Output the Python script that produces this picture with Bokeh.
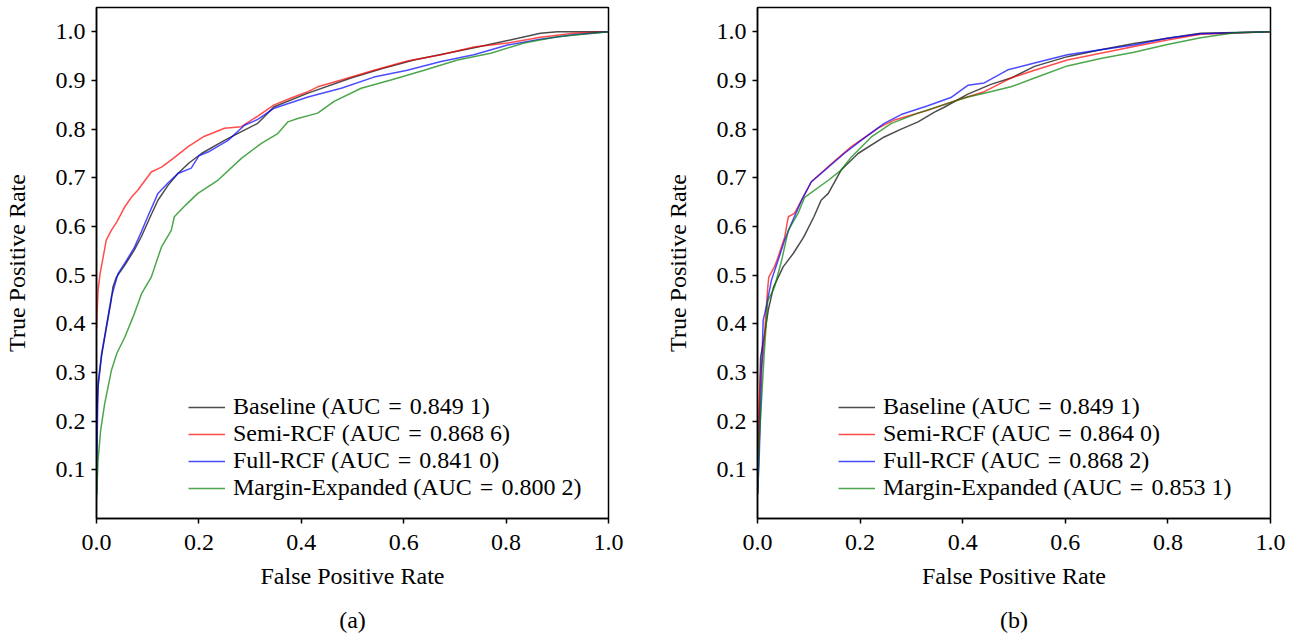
from bokeh.plotting import figure
from bokeh.layouts import row
from bokeh.models import Range1d, FixedTicker, PrintfTickFormatter, Legend, LegendItem, LinearAxis
from bokeh.embed import file_html
from bokeh.resources import INLINE

# ---------------- data ----------------
x_ticks = [0.0, 0.2, 0.4, 0.6, 0.8, 1.0]
y_ticks = [0.1, 0.2, 0.3, 0.4, 0.5, 0.6, 0.7, 0.8, 0.9, 1.0]

# panel (a)
a_baseline_fpr = [0.0, 0.0, 0.003, 0.01, 0.019, 0.029, 0.032, 0.039, 0.055, 0.074, 0.088, 0.105, 0.12, 0.14, 0.159, 0.18, 0.205, 0.25, 0.283, 0.315, 0.347, 0.413, 0.497, 0.56, 0.62, 0.68, 0.74, 0.803, 0.867, 0.9, 1.0]
a_baseline_tpr = [0.05, 0.2, 0.27, 0.335, 0.39, 0.45, 0.475, 0.496, 0.52, 0.552, 0.58, 0.62, 0.654, 0.685, 0.709, 0.73, 0.75, 0.777, 0.795, 0.812, 0.846, 0.874, 0.905, 0.925, 0.942, 0.955, 0.968, 0.982, 0.997, 1.0, 1.0]

a_semi_fpr = [0.0, 0.003, 0.007, 0.013, 0.019, 0.029, 0.04, 0.055, 0.068, 0.081, 0.095, 0.107, 0.127, 0.15, 0.179, 0.21, 0.25, 0.283, 0.315, 0.347, 0.38, 0.413, 0.432, 0.478, 0.542, 0.607, 0.673, 0.737, 0.803, 0.867, 0.932, 1.0]
a_semi_tpr = [0.39, 0.469, 0.503, 0.537, 0.572, 0.592, 0.61, 0.64, 0.66, 0.675, 0.695, 0.712, 0.722, 0.74, 0.764, 0.785, 0.802, 0.805, 0.827, 0.85, 0.864, 0.877, 0.887, 0.901, 0.921, 0.94, 0.953, 0.969, 0.977, 0.989, 0.997, 1.0]

a_full_fpr = [0.0, 0.002, 0.003, 0.01, 0.019, 0.029, 0.042, 0.055, 0.074, 0.088, 0.1, 0.12, 0.14, 0.159, 0.185, 0.2, 0.218, 0.257, 0.289, 0.315, 0.347, 0.413, 0.478, 0.542, 0.607, 0.673, 0.737, 0.803, 0.867, 0.932, 1.0]
a_full_tpr = [0.05, 0.21, 0.277, 0.339, 0.393, 0.455, 0.503, 0.524, 0.557, 0.59, 0.62, 0.668, 0.69, 0.709, 0.72, 0.745, 0.753, 0.777, 0.808, 0.82, 0.843, 0.866, 0.884, 0.907, 0.921, 0.939, 0.953, 0.973, 0.985, 0.994, 1.0]

a_margin_fpr = [0.0, 0.003, 0.008, 0.016, 0.029, 0.04, 0.055, 0.074, 0.088, 0.107, 0.12, 0.127, 0.146, 0.152, 0.175, 0.198, 0.237, 0.283, 0.322, 0.354, 0.374, 0.393, 0.432, 0.464, 0.517, 0.575, 0.64, 0.705, 0.77, 0.835, 0.9, 1.0]
a_margin_tpr = [0.04, 0.119, 0.18, 0.236, 0.304, 0.34, 0.372, 0.421, 0.462, 0.496, 0.537, 0.558, 0.592, 0.62, 0.645, 0.668, 0.695, 0.74, 0.771, 0.791, 0.815, 0.822, 0.833, 0.857, 0.884, 0.901, 0.921, 0.942, 0.956, 0.977, 0.99, 1.0]

# panel (b)
b_baseline_fpr = [0.0, 0.003, 0.006, 0.012, 0.021, 0.031, 0.05, 0.07, 0.09, 0.11, 0.124, 0.138, 0.163, 0.196, 0.247, 0.28, 0.313, 0.345, 0.364, 0.41, 0.455, 0.494, 0.54, 0.604, 0.669, 0.734, 0.799, 0.864, 1.0]
b_baseline_tpr = [0.05, 0.2, 0.331, 0.366, 0.428, 0.475, 0.517, 0.545, 0.578, 0.62, 0.654, 0.668, 0.716, 0.75, 0.784, 0.8, 0.815, 0.835, 0.845, 0.872, 0.892, 0.905, 0.929, 0.949, 0.963, 0.976, 0.987, 0.997, 1.0]

b_semi_fpr = [0.0, 0.004, 0.006, 0.011, 0.02, 0.022, 0.033, 0.04, 0.053, 0.06, 0.072, 0.086, 0.105, 0.144, 0.183, 0.235, 0.267, 0.332, 0.39, 0.442, 0.494, 0.54, 0.604, 0.669, 0.734, 0.799, 0.864, 1.0]
b_semi_tpr = [0.05, 0.25, 0.297, 0.338, 0.475, 0.496, 0.517, 0.537, 0.578, 0.62, 0.627, 0.654, 0.692, 0.729, 0.764, 0.802, 0.819, 0.839, 0.86, 0.877, 0.905, 0.921, 0.942, 0.956, 0.97, 0.983, 0.995, 1.0]

b_full_fpr = [0.0, 0.003, 0.008, 0.011, 0.017, 0.027, 0.04, 0.053, 0.066, 0.086, 0.105, 0.124, 0.169, 0.202, 0.247, 0.28, 0.332, 0.377, 0.41, 0.442, 0.488, 0.54, 0.604, 0.669, 0.734, 0.799, 0.864, 1.0]
b_full_tpr = [0.05, 0.112, 0.3, 0.407, 0.434, 0.489, 0.53, 0.572, 0.606, 0.654, 0.692, 0.709, 0.75, 0.777, 0.812, 0.83, 0.848, 0.865, 0.89, 0.895, 0.922, 0.936, 0.953, 0.963, 0.973, 0.987, 0.996, 1.0]

b_margin_fpr = [0.0, 0.003, 0.006, 0.013, 0.02, 0.033, 0.047, 0.06, 0.079, 0.092, 0.138, 0.163, 0.183, 0.222, 0.261, 0.313, 0.377, 0.41, 0.442, 0.494, 0.54, 0.604, 0.669, 0.734, 0.799, 0.864, 0.93, 1.0]
b_margin_tpr = [0.05, 0.15, 0.208, 0.338, 0.447, 0.475, 0.53, 0.592, 0.627, 0.66, 0.695, 0.716, 0.743, 0.784, 0.812, 0.833, 0.855, 0.866, 0.874, 0.887, 0.905, 0.93, 0.945, 0.958, 0.974, 0.988, 0.998, 1.0]

a_labels = ["Baseline (AUC\u2004=\u20040.849 1)", "Semi-RCF (AUC\u2004=\u20040.868 6)",
            "Full-RCF (AUC\u2004=\u20040.841 0)", "Margin-Expanded (AUC\u2004=\u20040.800 2)"]
b_labels = ["Baseline (AUC\u2004=\u20040.849 1)", "Semi-RCF (AUC\u2004=\u20040.864 0)",
            "Full-RCF (AUC\u2004=\u20040.868 2)", "Margin-Expanded (AUC\u2004=\u20040.853 1)"]

colors = ["black", "red", "blue", "green"]

FONT = "Liberation Serif"
FS = "24px"


def make_panel(curves, labels, caption, width, bl, br, legend_x):
    p = figure(width=width, height=639,
               x_range=Range1d(0, 1), y_range=Range1d(0, 1.05),
               output_backend="svg", toolbar_location=None,
               min_border_left=bl, min_border_right=br,
               min_border_top=7, min_border_bottom=121)
    p.grid.visible = False
    p.background_fill_color = "white"
    p.border_fill_color = "white"
    p.outline_line_color = "black"
    p.outline_line_width = 1.5
    p.outline_line_alpha = 1.0

    items = []
    for (fx, ty), col, lab in zip(curves, colors, labels):
        r = p.line(fx, ty, line_color=col, line_alpha=0.7, line_width=1.5)
        items.append(LegendItem(label=lab, renderers=[r]))

    for ax in (p.xaxis[0], p.yaxis[0]):
        ax.axis_line_color = "black"
        ax.axis_line_width = 1.5
        ax.major_tick_line_color = "black"
        ax.major_tick_line_width = 1.5
        ax.major_tick_out = 5
        ax.major_tick_in = 0
        ax.minor_tick_line_color = None
        ax.major_label_text_font = FONT
        ax.major_label_text_font_size = FS
        ax.major_label_text_color = "black"
        ax.axis_label_text_font = FONT
        ax.axis_label_text_font_size = FS
        ax.axis_label_text_font_style = "normal"
        ax.axis_label_text_color = "black"
        ax.formatter = PrintfTickFormatter(format="%.1f")

    p.xaxis[0].ticker = FixedTicker(ticks=x_ticks)
    p.yaxis[0].ticker = FixedTicker(ticks=y_ticks)
    p.xaxis[0].axis_label = "False Positive Rate"
    p.yaxis[0].axis_label = "True Positive Rate"
    p.xaxis[0].major_label_standoff = 11
    p.yaxis[0].major_label_standoff = 6
    p.xaxis[0].axis_label_standoff = 10
    p.yaxis[0].axis_label_standoff = 23

    # sub-figure caption as the label of a bare axis below the x axis
    cap_axis = LinearAxis(ticker=FixedTicker(ticks=[]), axis_label=caption,
                          axis_line_color=None, major_tick_line_color=None,
                          minor_tick_line_color=None, major_tick_out=0,
                          major_label_text_font_size="0px",
                          axis_label_standoff=15,
                          axis_label_text_font=FONT, axis_label_text_font_size=FS,
                          axis_label_text_font_style="normal",
                          axis_label_text_color="black")
    p.add_layout(cap_axis, "below")

    legend = Legend(items=items, location=(legend_x, 17),
                    glyph_width=37, glyph_height=20, label_height=20,
                    label_standoff=8, padding=0, spacing=0, margin=0,
                    border_line_alpha=0, background_fill_alpha=0,
                    label_text_font=FONT, label_text_font_size=FS,
                    label_text_line_height=1.1,
                    label_text_color="black")
    p.add_layout(legend)
    return p


p1 = make_panel([(a_baseline_fpr, a_baseline_tpr), (a_semi_fpr, a_semi_tpr),
                 (a_full_fpr, a_full_tpr), (a_margin_fpr, a_margin_tpr)],
                a_labels, "(a)", 661, 95, 53, 92)
p2 = make_panel([(b_baseline_fpr, b_baseline_tpr), (b_semi_fpr, b_semi_tpr),
                 (b_full_fpr, b_full_tpr), (b_margin_fpr, b_margin_tpr)],
                b_labels, "(b)", 640, 96, 31, 81)

layout = row(p1, p2)
open("out.html", "w").write(file_html(layout, INLINE))
